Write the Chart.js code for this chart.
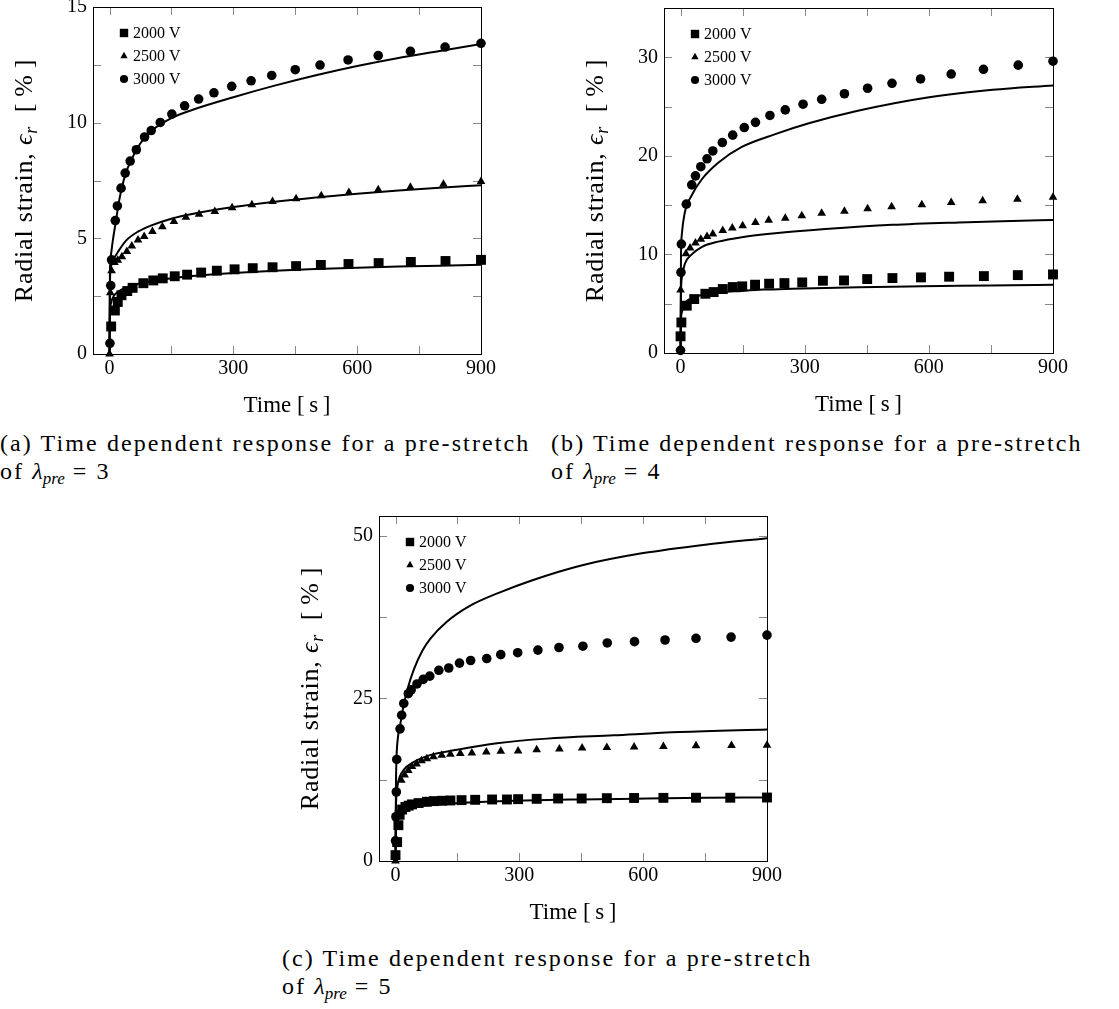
<!DOCTYPE html>
<html>
<head>
<meta charset="utf-8">
<script src="https://cdn.jsdelivr.net/npm/chart.js@4.4.1/dist/chart.umd.min.js"></script>
<style>
  body { margin: 0; background: #fff; width: 1119px; height: 1009px; position: relative; overflow: hidden; }
  canvas { position: absolute; }
  .cap { position: absolute; font-family: 'Liberation Serif', serif; font-size: 24px; line-height: 28px; color: #000; letter-spacing: 2.1px; white-space: nowrap; }
  .cap i { letter-spacing: 0; }
  .cap sub { font-size: 17px; font-style: italic; vertical-align: -5px; line-height: 0; letter-spacing: 0; }
</style>
</head>
<body>
<canvas id="ca" width="550" height="420" style="left:0;top:0"></canvas>
<canvas id="cb" width="559" height="419" style="left:560px;top:0"></canvas>
<canvas id="cc" width="560" height="427" style="left:280px;top:500px"></canvas>

<div class="cap" style="left:0;top:429px">(a) Time dependent response for a pre-stretch<br>of <i>λ</i><sub>pre</sub> = 3</div>
<div class="cap" style="left:551px;top:429px">(b) Time dependent response for a pre-stretch<br>of <i>λ</i><sub>pre</sub> = 4</div>
<div class="cap" style="left:282px;top:944px">(c) Time dependent response for a pre-stretch<br>of <i>λ</i><sub>pre</sub> = 5</div>

<script>
const FONT = "'Liberation Serif', 'DejaVu Serif', serif";

const voltages = ['2000 V', '2500 V', '3000 V'];
const xTicks = [0, 300, 600, 900];

// (a) pre-stretch 3 : measured points [time s, strain %]
const a2000 = [[4,1.19],[13,1.88],[20,2.25],[29,2.54],[43,2.72],[56,2.86],[82,3.06],[106,3.18],[129,3.27],[158,3.36],[188,3.43],[222,3.52],[260,3.6],[303,3.66],[347,3.71],[395,3.75],[452,3.8],[512,3.85],[579,3.89],[652,3.93],[730,3.98],[814,4.02],[900,4.07]];
const a2500 = [[0,0],[2,2.65],[5,3.6],[12,3.95],[20,4.05],[30,4.2],[42,4.43],[54,4.67],[69,4.93],[84,5.08],[104,5.3],[128,5.5],[156,5.73],[185,5.91],[217,6.04],[255,6.16],[297,6.32],[345,6.45],[395,6.59],[452,6.71],[513,6.84],[580,6.98],[651,7.1],[729,7.21],[809,7.34],[900,7.46]];
const a3000 = [[1,0.46],[3,2.96],[5,4.07],[14,5.77],[19,6.4],[28,7.17],[38,7.82],[50,8.34],[65,8.83],[85,9.38],[101,9.66],[123,10.01],[151,10.37],[182,10.73],[216,11.02],[253,11.29],[296,11.57],[343,11.81],[393,12.04],[450,12.29],[510,12.49],[578,12.71],[651,12.9],[729,13.08],[813,13.27],[900,13.43]];
// (a) model curves
const aFit2000 = [[0,0],[1,1.8],[3,2.15],[6,2.35],[10,2.5],[20,2.68],[40,2.88],[70,3.04],[100,3.14],[150,3.27],[200,3.37],[300,3.5],[400,3.6],[500,3.67],[600,3.73],[700,3.78],[800,3.82],[900,3.86]];
const aFit2500 = [[0,0],[1,3.0],[3,3.7],[6,3.95],[10,4.1],[20,4.4],[40,4.9],[70,5.3],[100,5.55],[150,5.85],[200,6.05],[300,6.35],[400,6.58],[500,6.77],[600,6.93],[700,7.07],[800,7.19],[900,7.3]];
const aFit3000 = [[0,0],[1,3.5],[3,4.2],[8,4.9],[16,5.8],[22,6.5],[30,7.2],[40,7.85],[52,8.35],[66,8.85],[85,9.35],[105,9.7],[150,10.2],[200,10.55],[300,11.1],[400,11.6],[500,12.05],[600,12.45],[700,12.8],[800,13.1],[900,13.4]];

// (b) pre-stretch 4
const b2000 = [[0,1.69],[2,3.1],[15,4.8],[33,5.47],[60,6.01],[80,6.18],[102,6.49],[126,6.69],[149,6.76],[180,6.93],[214,7.03],[251,7.09],[294,7.16],[344,7.33],[395,7.36],[451,7.5],[512,7.6],[581,7.67],[649,7.74],[733,7.8],[815,7.9],[900,7.97]];
const b2500 = [[0,6.4],[13,10.07],[23,10.64],[36,11.15],[49,11.55],[64,11.82],[78,12.06],[102,12.43],[125,12.67],[150,12.9],[181,13.24],[213,13.48],[253,13.68],[293,13.92],[341,14.19],[396,14.39],[452,14.63],[510,14.83],[583,15.03],[654,15.27],[730,15.44],[814,15.61],[900,15.81]];
const b3000 = [[0,0.27],[1,8.18],[2,11.05],[14,15.1],[27,17.06],[36,17.97],[49,18.9],[64,19.7],[78,20.5],[101,21.35],[126,22.1],[154,22.87],[181,23.4],[216,24.1],[253,24.66],[296,25.24],[341,25.74],[396,26.3],[452,26.86],[511,27.36],[580,27.8],[654,28.3],[732,28.78],[816,29.2],[900,29.6]];
const bFit2000 = [[0,0],[1,3.2],[3,4.1],[10,5.0],[27,5.55],[51,5.88],[91,6.13],[148,6.3],[200,6.43],[269,6.52],[350,6.6],[431,6.68],[550,6.75],[673,6.82],[800,6.88],[900,6.93]];
const bFit2500 = [[0,0],[1,6.0],[3,7.6],[10,9.0],[27,10.0],[51,10.75],[91,11.3],[148,11.75],[229,12.15],[350,12.57],[512,13.0],[673,13.25],[800,13.4],[900,13.5]];
const bFit3000 = [[0,0],[1,9.5],[3,12.0],[10,14.2],[27,16.0],[51,17.6],[91,19.3],[148,20.9],[229,22.2],[310,23.3],[431,24.6],[593,25.9],[754,26.7],[900,27.15]];

// (c) pre-stretch 5
const c2000 = [[0,0.9],[4,2.9],[7,5.5],[10,7.1],[16,7.9],[24,8.3],[32,8.5],[40,8.7],[56,8.9],[76,9.1],[93,9.2],[113,9.25],[133,9.3],[160,9.35],[193,9.4],[234,9.45],[270,9.45],[297,9.5],[342,9.55],[394,9.6],[451,9.6],[512,9.65],[578,9.68],[649,9.7],[728,9.72],[811,9.72],[900,9.75]];
const c2500 = [[0,0],[14,12.4],[22,13.2],[31,13.9],[40,14.5],[51,14.9],[63,15.4],[76,15.7],[92,16.0],[112,16.25],[133,16.4],[157,16.5],[185,16.6],[220,16.75],[255,16.87],[297,16.9],[342,17.1],[397,17.2],[452,17.35],[512,17.43],[578,17.5],[649,17.6],[728,17.7],[814,17.74],[900,17.8]];
const c3000 = [[0,3.1],[1,6.8],[2,10.6],[3,15.6],[11,20.3],[15,22.4],[20,24.2],[31,25.7],[38,26.3],[52,27.2],[67,27.9],[83,28.4],[105,29.3],[129,29.65],[155,30.4],[182,30.8],[221,31.1],[255,31.7],[296,32.0],[345,32.4],[396,32.8],[454,33.0],[513,33.5],[579,33.7],[653,33.95],[728,34.2],[813,34.4],[900,34.7]];
const cFit2000 = [[0,0],[1,5.0],[3,6.5],[8,7.5],[28,8.1],[85,8.6],[165,8.95],[286,9.25],[447,9.46],[608,9.6],[750,9.7],[900,9.76]];
const cFit2500 = [[0,0],[1,8.0],[3,10.5],[6,12.0],[20,14.0],[44,15.2],[85,16.3],[141,17.0],[246,18.1],[367,18.8],[528,19.3],[689,19.8],[900,20.2]];
const cFit3000 = [[0,0],[1,11],[2,15],[5,18.5],[11,20.8],[20,24.0],[30,26.6],[45,29.5],[65,32.3],[85,34.2],[125,36.8],[180,39.2],[250,41.2],[330,43.1],[450,45.4],[600,47.3],[750,48.6],[900,49.6]];

const markerStyle = ['rect', 'triangle', 'circle'];
const markerRadius = [7, 5, 4.8];

// frame + inward ticks on all four sides, pgfplots style
const framePlugin = {
  id: 'frame',
  beforeDatasetsDraw(chart, args, opts) {
    const { ctx, chartArea: a, scales: { x, y } } = chart;
    ctx.save();
    ctx.strokeStyle = '#888';
    ctx.lineWidth = 1;
    ctx.beginPath();
    for (let v = 0; v <= x.max + 0.01; v += opts.xStep) {
      const px = Math.round(x.getPixelForValue(v)) + 0.5;
      ctx.moveTo(px, a.bottom); ctx.lineTo(px, a.bottom - 8);
      ctx.moveTo(px, a.top); ctx.lineTo(px, a.top + 8);
    }
    for (let v = 0; v <= y.max + 0.01; v += opts.yStep) {
      const py = Math.round(y.getPixelForValue(v)) + 0.5;
      ctx.moveTo(a.left, py); ctx.lineTo(a.left + 8, py);
      ctx.moveTo(a.right, py); ctx.lineTo(a.right - 8, py);
    }
    ctx.stroke();
    ctx.strokeStyle = '#000';
    ctx.strokeRect(Math.round(a.left) + 0.5, Math.round(a.top) + 0.5, Math.round(a.width), Math.round(a.height));
    ctx.restore();
  }
};

// legend inside the plot, top left
const keyPlugin = {
  id: 'key',
  afterDatasetsDraw(chart, args, opts) {
    const { ctx, chartArea: a } = chart;
    ctx.save();
    ctx.font = '16px ' + FONT;
    ctx.textBaseline = 'middle';
    chart.data.datasets.filter(d => d.label).forEach((d, i) => {
      const yy = a.top + opts.rows[i];
      ctx.fillStyle = '#000';
      Chart.helpers.drawPoint(ctx, { pointStyle: d.pointStyle, radius: d.pointRadius * 0.85, rotation: 0, borderWidth: 0 }, a.left + opts.markX, yy);
      ctx.fillText(d.label, a.left + opts.textX, yy + 1);
    });
    ctx.restore();
  }
};

// y title with italic epsilon and subscript r
const yTitlePlugin = {
  id: 'ytitle',
  afterDraw(chart, args, opts) {
    const { ctx, chartArea: a } = chart;
    const parts = [
      { t: 'Radial strain, ', f: '26px ' + FONT, dy: 0 },
      { t: 'ϵ', f: 'italic 26px ' + FONT, dy: 0 },
      { t: 'r', f: 'italic 18px ' + FONT, dy: 5 },
      { t: '\u2002[\u2009%\u2009]', f: '26px ' + FONT, dy: 0 }
    ];
    ctx.save();
    ctx.fillStyle = '#000';
    ctx.textBaseline = 'alphabetic';
    ctx.letterSpacing = '0.8px';
    let total = 0;
    parts.forEach(p => { ctx.font = p.f; p.w = ctx.measureText(p.t).width; total += p.w; });
    ctx.translate(a.left - opts.offset, (a.top + a.bottom) / 2);
    ctx.rotate(-Math.PI / 2);
    let xx = -total / 2;
    parts.forEach(p => { ctx.font = p.f; ctx.fillText(p.t, xx, 9 + p.dy); xx += p.w; });
    ctx.restore();
  }
};

function makePanel(id, sets, fits, yMax, yTicks, yStep, area) {
  const canvas = document.getElementById(id);
  const datasets = [];
  sets.forEach((pts, i) => {
    datasets.push({
      label: voltages[i],
      data: pts.map(([x, y]) => ({ x, y })),
      pointStyle: markerStyle[i],
      pointRadius: markerRadius[i],
      backgroundColor: '#000',
      borderWidth: 0,
      showLine: false,
      clip: false
    });
  });
  fits.forEach(pts => {
    datasets.push({
      data: pts.map(([x, y]) => ({ x, y })),
      showLine: true,
      borderColor: '#000',
      borderWidth: 2,
      pointRadius: 0,
      cubicInterpolationMode: 'monotone',
      fill: false
    });
  });

  const xH = canvas.height - area.bottom;
  return new Chart(canvas, {
    type: 'scatter',
    data: { datasets },
    options: {
      responsive: false,
      animation: false,
      events: [],
      layout: { padding: { left: 0, top: area.top, right: canvas.width - area.right, bottom: 0 } },
      plugins: {
        legend: { display: false },
        tooltip: { enabled: false },
        frame: { xStep: 150, yStep },
        key: { rows: [26, 49, 72], markX: 31, textX: 40 },
        ytitle: { offset: 70 }
      },
      scales: {
        x: {
          type: 'linear', min: -40, max: 900,
          afterBuildTicks: s => { s.ticks = xTicks.map(v => ({ value: v })); },
          afterFit: s => { s.height = xH; s.paddingLeft = 0; s.paddingRight = 0; },
          grid: { display: false, drawTicks: false },
          border: { display: false },
          ticks: { color: '#000', font: { family: FONT, size: 20 }, padding: 3, maxRotation: 0, autoSkip: false },
          title: { display: true, text: 'Time [\u2009s\u2009]', color: '#000', font: { family: FONT, size: 23 }, padding: 0 }
        },
        y: {
          type: 'linear', min: 0, max: yMax,
          afterBuildTicks: s => { s.ticks = yTicks.map(v => ({ value: v })); },
          afterFit: s => { s.width = area.left; s.paddingTop = 0; s.paddingBottom = 0; },
          grid: { display: false, drawTicks: false },
          border: { display: false },
          ticks: { color: '#000', font: { family: FONT, size: 20 }, padding: 6, autoSkip: false }
        }
      }
    },
    plugins: [framePlugin, keyPlugin, yTitlePlugin]
  });
}

makePanel('ca', [a2000, a2500, a3000], [aFit2000, aFit2500, aFit3000], 15, [0, 5, 10, 15], 2.5,
  { left: 93, top: 7, right: 481, bottom: 354 });
makePanel('cb', [b2000, b2500, b3000], [bFit2000, bFit2500, bFit3000], 35, [0, 10, 20, 30], 5,
  { left: 104, top: 8, right: 493, bottom: 353 });
makePanel('cc', [c2000, c2500, c3000], [cFit2000, cFit2500, cFit3000], 53, [0, 25, 50], 12.5,
  { left: 99, top: 16, right: 487, bottom: 361 });
</script>
</body>
</html>
